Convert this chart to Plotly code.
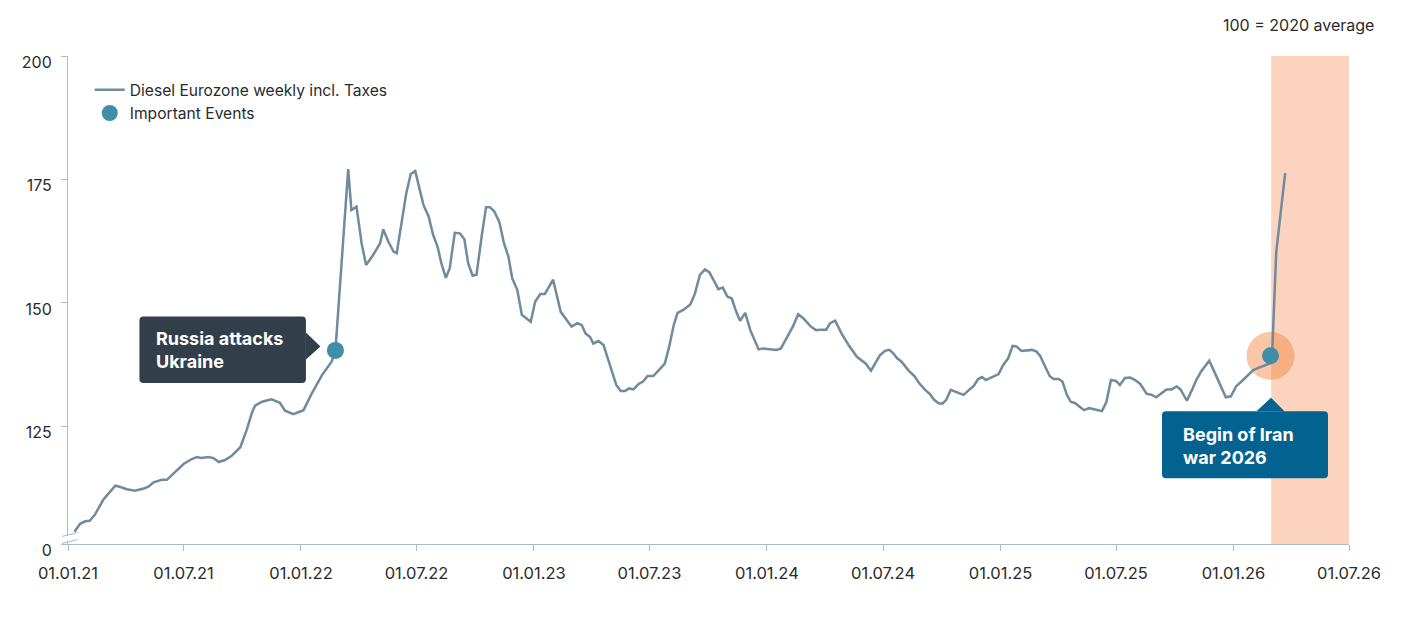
import plotly.graph_objects as go

# ---------------- data ----------------
dates = [
    "2021-01-11", "2021-01-20", "2021-01-28", "2021-02-04", "2021-02-12", "2021-02-25",
    "2021-03-16", "2021-03-23", "2021-04-03", "2021-04-16", "2021-05-01", "2021-05-07",
    "2021-05-15", "2021-05-28", "2021-06-05", "2021-06-15", "2021-07-01", "2021-07-14",
    "2021-07-22", "2021-07-29", "2021-08-09", "2021-08-17", "2021-08-25", "2021-09-04",
    "2021-09-14", "2021-09-28", "2021-10-08", "2021-10-16", "2021-10-21", "2021-11-01",
    "2021-11-16", "2021-11-29", "2021-12-07", "2021-12-20", "2022-01-05", "2022-01-18",
    "2022-02-03", "2022-02-18", "2022-02-24",
    "2022-03-16", "2022-03-21", "2022-03-29", "2022-04-06", "2022-04-13", "2022-04-24",
    "2022-05-05", "2022-05-10", "2022-05-18", "2022-05-26", "2022-05-31", "2022-06-05",
    "2022-06-15", "2022-06-22", "2022-06-29", "2022-07-05", "2022-07-12", "2022-07-20",
    "2022-07-27", "2022-08-03", "2022-08-09", "2022-08-16", "2022-08-22", "2022-08-30",
    "2022-09-07", "2022-09-14", "2022-09-20", "2022-09-27", "2022-10-03", "2022-10-11",
    "2022-10-18", "2022-10-24", "2022-10-31", "2022-11-08", "2022-11-15", "2022-11-22",
    "2022-11-28", "2022-12-06", "2022-12-13", "2022-12-27",
    "2023-01-03", "2023-01-11", "2023-01-18", "2023-01-31", "2023-02-12", "2023-02-21",
    "2023-03-01", "2023-03-10", "2023-03-17", "2023-03-23", "2023-03-30", "2023-04-04",
    "2023-04-12", "2023-04-20", "2023-04-28", "2023-05-05", "2023-05-10", "2023-05-17",
    "2023-05-24", "2023-05-30", "2023-06-06", "2023-06-14", "2023-06-21", "2023-06-28",
    "2023-07-07", "2023-07-15", "2023-07-25", "2023-08-01", "2023-08-08", "2023-08-14",
    "2023-08-23", "2023-09-03", "2023-09-10", "2023-09-18", "2023-09-26", "2023-10-03",
    "2023-10-09", "2023-10-17", "2023-10-24", "2023-10-31", "2023-11-07", "2023-11-14",
    "2023-11-20", "2023-11-28", "2023-12-06", "2023-12-19", "2023-12-26",
    "2024-01-09", "2024-01-16", "2024-01-23", "2024-02-01", "2024-02-11", "2024-02-19",
    "2024-02-27", "2024-03-09", "2024-03-18", "2024-03-24", "2024-04-03", "2024-04-09",
    "2024-04-17", "2024-04-27", "2024-05-08", "2024-05-21", "2024-05-30", "2024-06-04",
    "2024-06-12", "2024-06-18", "2024-06-26", "2024-07-04", "2024-07-11", "2024-07-17",
    "2024-07-23", "2024-07-30", "2024-08-10", "2024-08-19", "2024-08-27", "2024-09-05",
    "2024-09-12", "2024-09-19", "2024-09-26", "2024-10-02", "2024-10-08", "2024-10-15",
    "2024-10-24", "2024-11-04", "2024-11-12", "2024-11-20", "2024-11-27", "2024-12-03",
    "2024-12-09", "2024-12-18", "2024-12-29",
    "2025-01-05", "2025-01-13", "2025-01-20", "2025-01-26", "2025-02-03", "2025-02-11",
    "2025-02-19", "2025-02-26", "2025-03-04", "2025-03-12", "2025-03-19", "2025-03-25",
    "2025-04-02", "2025-04-08", "2025-04-15", "2025-04-21", "2025-04-28", "2025-05-05",
    "2025-05-12", "2025-05-20", "2025-05-29", "2025-06-09", "2025-06-16", "2025-06-23",
    "2025-07-01", "2025-07-07", "2025-07-15", "2025-07-23", "2025-07-31", "2025-08-08",
    "2025-08-18", "2025-08-26", "2025-09-02", "2025-09-11", "2025-09-18", "2025-09-26",
    "2025-10-04", "2025-10-10", "2025-10-20", "2025-10-28", "2025-11-03", "2025-11-11",
    "2025-11-24", "2025-12-03", "2025-12-11", "2025-12-20", "2025-12-28",
    "2026-01-05", "2026-01-16", "2026-02-01", "2026-02-14", "2026-02-24", "2026-03-02",
    "2026-03-09", "2026-03-16", "2026-03-23",
]
values = [
    103.7, 105.3, 105.8, 105.9, 107.1, 110.1,
    113.0, 112.8, 112.3, 112.0, 112.5, 112.8,
    113.7, 114.2, 114.2, 115.4, 117.4, 118.4,
    118.8, 118.6, 118.8, 118.6, 117.8, 118.2,
    119.0, 120.8, 124.3, 127.7, 129.2, 130.0,
    130.5, 129.8, 128.2, 127.5, 128.3, 131.7,
    135.4, 138.1, 140.4,
    177.1, 168.8, 169.5, 162.1, 157.7, 159.7,
    162.1, 164.9, 162.4, 160.4, 160.1, 164.1,
    172.2, 176.1, 176.7, 173.5, 169.8, 167.5,
    163.8, 161.4, 158.0, 155.1, 157.0, 164.2,
    164.1, 162.9, 158.0, 155.5, 155.7, 163.4,
    169.4, 169.4, 168.5, 166.3, 162.1, 159.4,
    155.0, 152.6, 147.6, 146.2,
    150.3, 151.8, 151.8, 154.7, 148.2, 146.6,
    145.2, 145.9, 145.5, 143.8, 143.1, 141.8,
    142.3, 141.5, 138.1, 135.1, 133.4, 132.2,
    132.2, 132.7, 132.5, 133.6, 134.1, 135.2,
    135.2, 136.3, 137.7, 141.2, 145.5, 148.0,
    148.6, 149.7, 151.8, 155.7, 156.8, 156.2,
    154.8, 152.8, 153.1, 151.3, 150.9, 148.2,
    146.4, 148.0, 144.5, 140.6, 140.8,
    140.7, 140.5, 140.8, 142.9, 145.3, 147.7,
    146.9, 145.3, 144.5, 144.6, 144.6, 145.9,
    146.4, 143.8, 141.5, 139.1, 138.1, 137.7,
    136.3, 137.6, 139.4, 140.3, 140.5, 139.8,
    138.8, 138.1, 136.3, 135.2, 133.7, 132.4,
    131.6, 130.4, 129.7, 129.6, 130.4, 132.4,
    131.9, 131.4, 132.3, 133.2, 134.6, 135.0,
    134.4, 135.0, 135.6,
    137.4, 138.8, 141.3, 141.2, 140.3, 140.4,
    140.5, 140.2, 139.3, 137.1, 135.2, 134.6,
    134.6, 134.1, 131.4, 130.0, 129.7, 129.0,
    128.3, 128.7, 128.4, 128.1, 130.0, 134.4,
    134.2, 133.4, 134.8, 134.9, 134.4, 133.6,
    131.6, 131.4, 130.9, 131.9, 132.5, 132.5,
    133.1, 132.5, 130.2, 132.4, 134.2, 136.1,
    138.3, 135.8, 133.4, 130.9, 131.1,
    133.1, 134.4, 136.4, 137.1, 137.7, 137.9,
    160.3, 168.3, 176.3,
]

event_dates = ["2022-02-24", "2026-02-28"]
event_values = [140.4, 139.3]
event_labels = ["Russia attacks<br>Ukraine", "Begin of Iran<br>war 2026"]

highlight_start = "2026-03-01"
highlight_end = "2026-07-01"

x_tickvals = ["2021-01-01", "2021-07-01", "2022-01-01", "2022-07-01", "2023-01-01",
              "2023-07-01", "2024-01-01", "2024-07-01", "2025-01-01", "2025-07-01",
              "2026-01-01", "2026-07-01"]
x_ticktext = ["01.01.21", "01.07.21", "01.01.22", "01.07.22", "01.01.23", "01.07.23",
              "01.01.24", "01.07.24", "01.01.25", "01.07.25", "01.01.26", "01.07.26"]
y_bottom = 101.2
y_tickvals = [y_bottom, 125, 150, 175, 200]
y_ticktext = ["0", "125", "150", "175", "200"]

# ---------------- styles ----------------
FONT = "Inter"
AXIS = "#a9bccb"
LINE = "#6f8b9d"
DOT = "#3f8ea8"
TEXT = "#2b2b2b"
HIGHLIGHT = "#fcd3be"
HALO = "rgba(245,128,60,0.45)"
BOX_COLORS = ["#323f4b", "#03628f"]


def rounded_rect(x0, x1, y0, y1, r):
    return (f"M {x0 + r},{y0} L {x1 - r},{y0} Q {x1},{y0} {x1},{y0 + r} "
            f"L {x1},{y1 - r} Q {x1},{y1} {x1 - r},{y1} L {x0 + r},{y1} "
            f"Q {x0},{y1} {x0},{y1 - r} L {x0},{y0 + r} Q {x0},{y0} {x0 + r},{y0} Z")


fig = go.Figure()

fig.add_trace(go.Scatter(
    x=dates, y=values, mode="lines", name="Diesel Eurozone weekly incl. Taxes",
    line=dict(color=LINE, width=2.5), hoverinfo="skip",
))
fig.add_trace(go.Scatter(
    x=event_dates, y=event_values, mode="markers", name="Important Events",
    marker=dict(color=DOT, size=17), hoverinfo="skip",
))

shapes = []
# highlighted period
shapes.append(dict(type="rect", xref="x", yref="y domain", x0=highlight_start, x1=highlight_end,
                   y0=0, y1=1, fillcolor=HIGHLIGHT, line=dict(width=0), layer="below"))
# halo around latest event
shapes.append(dict(type="circle", xref="x", yref="y", xsizemode="pixel", ysizemode="pixel",
                   xanchor=event_dates[1], yanchor=event_values[1], x0=-24, x1=24, y0=-24, y1=24,
                   fillcolor=HALO, line=dict(width=0), layer="below"))

# callout boxes (pixel geometry relative to the event point; positive y = up)
box_geom = [
    dict(box=(-196, -29.5, -32.5, 34), tri="M -29.5,18 L -15,4 L -29.5,-9 Z"),
    dict(box=(-108.5, 57.5, -122.5, -55.5), tri="M -14,-55.5 L 0.5,-42 L 14,-55.5 Z"),
]
for d, v, g, c in zip(event_dates, event_values, box_geom, BOX_COLORS):
    x0, x1, y0, y1 = g["box"]
    for p in (rounded_rect(x0, x1, y0, y1, 4), g["tri"]):
        shapes.append(dict(type="path", xref="x", yref="y", xsizemode="pixel", ysizemode="pixel",
                           xanchor=d, yanchor=v, path=p, fillcolor=c, line=dict(width=0),
                           layer="above"))

# axis break marks at bottom left
shapes.append(dict(type="path", xref="x domain", yref="y domain", xsizemode="pixel",
                   ysizemode="pixel", xanchor=0, yanchor=0,
                   path="M -7,1.5 L 11,5.5 L 11,10 L -7,6.5 Z", fillcolor="white",
                   line=dict(width=0), layer="above"))
for off in (0.5, 7.5):
    shapes.append(dict(type="path", xref="x domain", yref="y domain", xsizemode="pixel",
                       ysizemode="pixel", xanchor=0, yanchor=0,
                       path=f"M -6,{off} L 9.5,{off + 4}", line=dict(color=AXIS, width=1.2),
                       layer="above"))

annotations = []
text_shift = [(-181, 0), (-89, -90)]
for d, v, t, (xs, ys) in zip(event_dates, event_values, event_labels, text_shift):
    annotations.append(dict(x=d, y=v, xref="x", yref="y", text=f"<b>{t}</b>", showarrow=False,
                            xanchor="left", yanchor="middle", align="left", xshift=xs, yshift=ys,
                            font=dict(family=FONT, size=18, color="white")))
annotations.append(dict(x=1.0211, y=1.0635, xref="paper", yref="paper", text="100 = 2020 average",
                        showarrow=False, xanchor="right", yanchor="middle",
                        font=dict(family=FONT, size=16, color=TEXT)))

fig.update_layout(
    width=1411, height=624,
    margin=dict(l=60, r=70, t=48, b=88),
    paper_bgcolor="white", plot_bgcolor="white",
    font=dict(family=FONT, size=16, color=TEXT),
    showlegend=True,
    legend=dict(x=0.017, y=0.965, xanchor="left", yanchor="top", bgcolor="rgba(0,0,0,0)",
                font=dict(family=FONT, size=15.6, color=TEXT), tracegroupgap=0),
    shapes=shapes,
    annotations=annotations,
    xaxis=dict(type="date", range=["2021-01-01", "2026-07-01"], tickvals=x_tickvals,
               ticktext=x_ticktext, showgrid=False, zeroline=False, showline=True,
               linecolor=AXIS, linewidth=1, ticks="outside", ticklen=6, tickcolor=AXIS,
               tickfont=dict(family=FONT, size=16.5, color=TEXT), ticklabelstandoff=8),
    yaxis=dict(range=[y_bottom, 200], tickvals=y_tickvals, ticktext=y_ticktext, showgrid=False,
               zeroline=False, showline=True, linecolor=AXIS, linewidth=1, ticks="outside",
               ticklen=6, tickcolor=AXIS, tickfont=dict(family=FONT, size=16, color=TEXT),
               ticklabelstandoff=6, ticklabelshift=6),
)

fig.write_html("out.html")
